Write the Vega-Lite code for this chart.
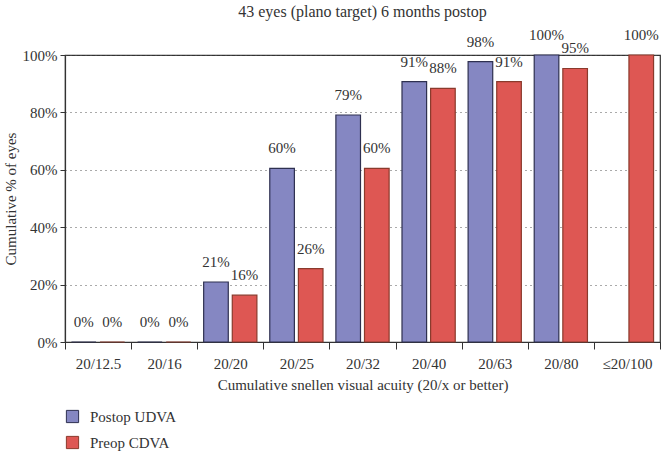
{
  "$schema": "https://vega.github.io/schema/vega-lite/v6.json",
  "autosize": {"type": "none"},
  "width": 595,
  "height": 287,
  "padding": {"left": 65, "top": 55, "right": 1, "bottom": 112},
  "background": "white",
  "title": {"text": "43 eyes (plano target) 6 months postop", "font": "Liberation Serif", "fontSize": 16, "fontWeight": "normal", "color": "#333", "offset": 8, "anchor": "middle"},
  "config": {
    "font": "Liberation Serif",
    "view": {"stroke": "#333", "strokeWidth": 1.2},
    "axis": {"labelFont": "Liberation Serif", "titleFont": "Liberation Serif", "labelColor": "#333", "titleColor": "#333", "titleFontWeight": "normal", "labelFontSize": 15, "titleFontSize": 15, "domainColor": "#333", "tickColor": "#333"}
  },
  "data": {"values": [
    {"cat": "20/12.5", "series": "Postop UDVA", "value": 0, "label": "0%"},
    {"cat": "20/12.5", "series": "Preop CDVA", "value": 0, "label": "0%"},
    {"cat": "20/16", "series": "Postop UDVA", "value": 0, "label": "0%"},
    {"cat": "20/16", "series": "Preop CDVA", "value": 0, "label": "0%"},
    {"cat": "20/20", "series": "Postop UDVA", "value": 20.9, "label": "21%"},
    {"cat": "20/20", "series": "Preop CDVA", "value": 16.3, "label": "16%"},
    {"cat": "20/25", "series": "Postop UDVA", "value": 60.5, "label": "60%"},
    {"cat": "20/25", "series": "Preop CDVA", "value": 25.6, "label": "26%"},
    {"cat": "20/32", "series": "Postop UDVA", "value": 79.1, "label": "79%"},
    {"cat": "20/32", "series": "Preop CDVA", "value": 60.5, "label": "60%"},
    {"cat": "20/40", "series": "Postop UDVA", "value": 90.7, "label": "91%"},
    {"cat": "20/40", "series": "Preop CDVA", "value": 88.4, "label": "88%"},
    {"cat": "20/63", "series": "Postop UDVA", "value": 97.7, "label": "98%"},
    {"cat": "20/63", "series": "Preop CDVA", "value": 90.7, "label": "91%"},
    {"cat": "20/80", "series": "Postop UDVA", "value": 100, "label": "100%"},
    {"cat": "20/80", "series": "Preop CDVA", "value": 95.3, "label": "95%"},
    {"cat": "≤20/100", "series": "Preop CDVA", "value": 100, "label": "100%"}
  ]},
  "encoding": {
    "x": {"field": "cat", "type": "nominal", "sort": null,
      "scale": {"domain": ["20/12.5", "20/16", "20/20", "20/25", "20/32", "20/40", "20/63", "20/80", "≤20/100"], "paddingInner": 0, "paddingOuter": 0},
      "axis": {"title": "Cumulative snellen visual acuity (20/x or better)", "labelAngle": 0, "tickBand": "extent", "tickSize": 7, "labelPadding": 7, "titlePadding": 6, "domainWidth": 1.2}},
    "xOffset": {"field": "series", "type": "nominal", "scale": {"domain": ["Postop UDVA", "Preop CDVA"], "paddingInner": 0.14, "paddingOuter": 0.225}},
    "y": {"field": "value", "type": "quantitative",
      "scale": {"domain": [0, 100], "nice": false},
      "axis": {"title": "Cumulative % of eyes", "values": [0, 20, 40, 60, 80, 100], "labelExpr": "datum.value + '%'", "tickSize": 5, "labelPadding": 3, "titlePadding": 4, "grid": true, "gridDash": [1, 4], "gridColor": "#555", "gridWidth": 1, "domainWidth": 1.2}}
  },
  "layer": [
    {
      "mark": {"type": "bar", "strokeWidth": 1.2},
      "encoding": {
        "color": {"field": "series", "type": "nominal", "scale": {"domain": ["Postop UDVA", "Preop CDVA"], "range": ["#8587C2", "#DE5753"]},
          "legend": {"title": null, "orient": "none", "legendX": 0, "legendY": 354, "direction": "vertical", "symbolType": "square", "symbolSize": 150, "symbolStrokeColor": "#444", "symbolStrokeWidth": 1, "labelFont": "Liberation Serif", "labelFontSize": 15, "labelColor": "#333", "rowPadding": 9, "labelOffset": 10}},
        "stroke": {"field": "series", "type": "nominal", "scale": {"domain": ["Postop UDVA", "Preop CDVA"], "range": ["#2E3050", "#8A3A2C"]}, "legend": null}
      }
    },
    {
      "mark": {"type": "text", "baseline": "bottom", "dy": -12, "fontSize": 15, "color": "#333", "font": "Liberation Serif"},
      "encoding": {"text": {"field": "label"}}
    }
  ]
}
